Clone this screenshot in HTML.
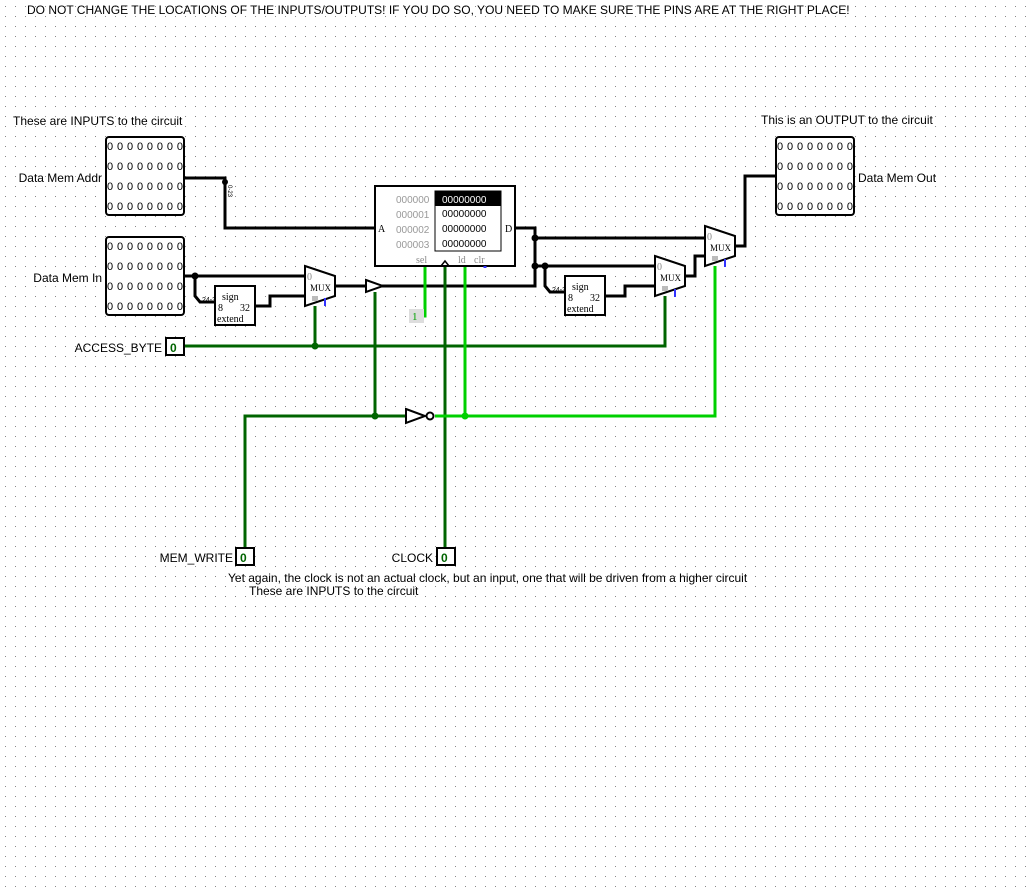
<!DOCTYPE html>
<html><head><meta charset="utf-8"><style>
body{margin:0;background:#fff}
svg{display:block}
text{font-family:"Liberation Sans",sans-serif;font-size:12px;fill:#000}
.s{font-family:"Liberation Serif",serif;font-size:10px}
.d{font-family:"Liberation Sans",sans-serif;font-size:11px}
</style></head><body>
<svg width="1031" height="888" xmlns="http://www.w3.org/2000/svg">
<defs><pattern id="g" x="5" y="6" width="10" height="10" patternUnits="userSpaceOnUse"><rect x="0" y="0" width="1" height="1" fill="#888"/></pattern></defs>
<rect width="1031" height="888" fill="url(#g)"/>
<text x="27" y="14">DO NOT CHANGE THE LOCATIONS OF THE INPUTS/OUTPUTS! IF YOU DO SO, YOU NEED TO MAKE SURE THE PINS ARE AT THE RIGHT PLACE!</text>
<text x="13" y="125">These are INPUTS to the circuit</text>
<text x="761" y="124">This is an OUTPUT to the circuit</text>
<text x="102" y="182" text-anchor="end">Data Mem Addr</text>
<text x="102" y="282" text-anchor="end">Data Mem In</text>
<text x="858" y="182">Data Mem Out</text>
<text x="162" y="352" text-anchor="end">ACCESS_BYTE</text>
<text x="233" y="562" text-anchor="end">MEM_WRITE</text>
<text x="433" y="562" text-anchor="end">CLOCK</text>
<text x="228" y="582">Yet again, the clock is not an actual clock, but an input, one that will be driven from a higher circuit</text>
<text x="249" y="595">These are INPUTS to the circuit</text>

<g stroke="#000" stroke-width="3" fill="none">
<polyline points="184,178 225,178 225,228 375,228"/>
<polyline points="184,276 305,276"/>
<polyline points="195,276 195,296 200,302 215,302"/>
<polyline points="255,306 270,306 270,296 305,296"/>
<polyline points="335,286 535,286 535,228 515,228"/>
<polyline points="535,238 705,238"/>
<polyline points="535,266 655,266"/>
<polyline points="545,266 545,286 550,292 565,292"/>
<polyline points="605,296 625,296 625,286 655,286"/>
<polyline points="685,276 695,276 695,256 705,256"/>
<polyline points="735,246 745,246 745,176 776,176"/>
</g>
<g fill="#000"><circle cx="225" cy="182" r="3"/><circle cx="195" cy="276" r="3.5"/><circle cx="535" cy="238" r="3.5"/><circle cx="535" cy="266" r="3.5"/><circle cx="545" cy="266" r="3.5"/></g>
<text x="228" y="185" style="font-size:6px" transform="rotate(90 228 185)">0-23</text>
<text x="202" y="302" style="font-size:7px">24-31</text>
<text x="552" y="292" style="font-size:7px">24-31</text>

<g stroke="#006400" stroke-width="3" fill="none">
<polyline points="185,346 665,346 665,296"/>
<polyline points="315,306 315,346"/>
<polyline points="375,292 375,416"/>
<polyline points="245,549 245,416 405,416"/>
<polyline points="445,266 445,549"/>
</g>
<g fill="#006400"><circle cx="315" cy="346" r="3.5"/><circle cx="375" cy="416" r="3.5"/></g>
<g stroke="#00d000" stroke-width="3" fill="none">
<polyline points="435,416 715,416 715,266"/>
<polyline points="465,416 465,266"/>
<polyline points="425,266 425,316 420,316"/>
</g>
<circle cx="465" cy="416" r="3.5" fill="#00d000"/>
<rect x="409" y="309" width="15" height="14" fill="#ddd"/>
<text x="412" y="320" class="s" style="fill:#00a000;font-size:11px">1</text>

<g fill="#fff" stroke="#000" stroke-width="2">
<rect x="106" y="137" width="78" height="78" rx="3"/>
<rect x="106" y="237" width="78" height="78" rx="3"/>
<rect x="776" y="137" width="78" height="78" rx="3"/>
</g>
<g>
<text x="107" y="150" class="d" textLength="76">00000000</text><text x="107" y="170" class="d" textLength="76">00000000</text><text x="107" y="190" class="d" textLength="76">00000000</text><text x="107" y="210" class="d" textLength="76">00000000</text>
<text x="107" y="250" class="d" textLength="76">00000000</text><text x="107" y="270" class="d" textLength="76">00000000</text><text x="107" y="290" class="d" textLength="76">00000000</text><text x="107" y="310" class="d" textLength="76">00000000</text>
<text x="777" y="150" class="d" textLength="76">00000000</text><text x="777" y="170" class="d" textLength="76">00000000</text><text x="777" y="190" class="d" textLength="76">00000000</text><text x="777" y="210" class="d" textLength="76">00000000</text>
</g>
<g fill="#fff" stroke="#000" stroke-width="2">
<rect x="166" y="338" width="18" height="17"/><rect x="236" y="548" width="18" height="17"/><rect x="437" y="548" width="18" height="17"/>
</g>
<text x="170" y="352" style="fill:#006400;font-weight:bold">0</text><text x="240" y="562" style="fill:#006400;font-weight:bold">0</text><text x="441" y="562" style="fill:#006400;font-weight:bold">0</text>

<rect x="375" y="186" width="140" height="80" fill="#fff" stroke="#000" stroke-width="2"/>
<rect x="435" y="191" width="66" height="60" fill="#fff" stroke="#000" stroke-width="1"/>
<rect x="435" y="191" width="66" height="15" fill="#000"/>
<text x="442" y="203" class="d" style="fill:#fff;font-size:10px">00000000</text>
<text x="442" y="217" class="d" style="font-size:10px">00000000</text>
<text x="442" y="232" class="d" style="font-size:10px">00000000</text>
<text x="442" y="247" class="d" style="font-size:10px">00000000</text>
<text x="396" y="203" style="fill:#999;font-size:10px">000000</text><text x="396" y="218" style="fill:#999;font-size:10px">000001</text><text x="396" y="233" style="fill:#999;font-size:10px">000002</text><text x="396" y="248" style="fill:#999;font-size:10px">000003</text>
<text x="378" y="232" class="s">A</text><text x="505" y="232" class="s">D</text>
<text x="416" y="263" class="s" style="fill:#888">sel</text><text x="458" y="263" class="s" style="fill:#888">ld</text><text x="474" y="263" class="s" style="fill:#888">clr</text>
<polyline points="441,266 445,261 449,266" fill="none" stroke="#000" stroke-width="1.5"/>
<line x1="485" y1="266" x2="485" y2="268" stroke="#33f" stroke-width="3"/>

<g fill="#fff" stroke="#000" stroke-width="2"><rect x="215" y="286" width="40" height="39"/><rect x="565" y="276" width="40" height="39"/></g>
<text x="222" y="300" class="s">sign</text><text x="218" y="311" class="s">8</text><text x="240" y="311" class="s">32</text><text x="217" y="322" class="s">extend</text>
<text x="572" y="290" class="s">sign</text><text x="568" y="301" class="s">8</text><text x="590" y="301" class="s">32</text><text x="567" y="312" class="s">extend</text>

<g fill="#fff" stroke="#000" stroke-width="2">
<polygon points="305,266 335,276 335,296 305,306"/>
<polygon points="655,256 685,266 685,286 655,296"/>
<polygon points="705,226 735,236 735,256 705,266"/>
</g>
<text x="310" y="291" class="s" style="font-size:9px">MUX</text><text x="660" y="281" class="s" style="font-size:9px">MUX</text><text x="710" y="251" class="s" style="font-size:9px">MUX</text>
<text x="307" y="280" class="s" style="fill:#888">0</text><text x="657" y="270" class="s" style="fill:#888">0</text><text x="707" y="240" class="s" style="fill:#888">0</text>
<g fill="#bbb"><rect x="312" y="296" width="6" height="5"/><rect x="662" y="286" width="6" height="5"/><rect x="712" y="256" width="6" height="5"/></g>
<g stroke="#33f" stroke-width="2"><line x1="325" y1="298" x2="325" y2="306"/><line x1="675" y1="289" x2="675" y2="297"/><line x1="725" y1="259" x2="725" y2="267"/></g>
<polygon points="366,280 383,286 366,292" fill="#fff" stroke="#000" stroke-width="2"/>
<polygon points="406,409 425,416 406,423" fill="#fff" stroke="#000" stroke-width="2"/>
<circle cx="430" cy="416" r="3.5" fill="#fff" stroke="#000" stroke-width="2"/>
</svg>
</body></html>
